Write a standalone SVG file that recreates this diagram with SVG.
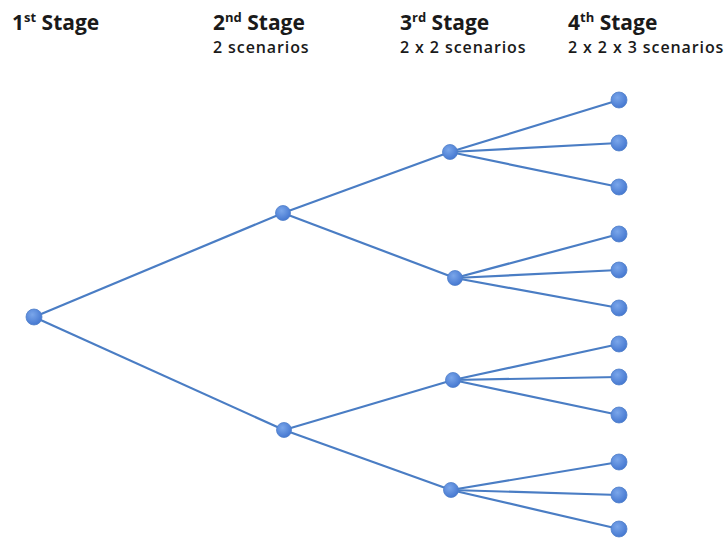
<svg xmlns="http://www.w3.org/2000/svg" width="728" height="539" viewBox="0 0 728 539">
<defs>
<radialGradient id="g" cx="40%" cy="35%" r="70%">
<stop offset="0" stop-color="#7aa6ea"/>
<stop offset="1" stop-color="#4275cf"/>
</radialGradient>
<style>
.t{font-family:"Open Sans","Liberation Sans",sans-serif;font-weight:bold;fill:#1a1a1a;font-size:21px}
.s{font-family:"Open Sans","Liberation Sans",sans-serif;font-weight:600;fill:#1a1a1a;font-size:16px;letter-spacing:0.9px}
.sup{font-size:13px}
.e{stroke:#4a7dc4;stroke-width:2.2;fill:none}
.n{fill:url(#g);stroke:#4f7fc9;stroke-width:0.8}
</style>
</defs>
<rect width="728" height="539" fill="#fff"/>
<g id="labels">
<text class="t" x="12" y="30">1<tspan class="sup" dy="-8">st</tspan><tspan dy="8"> Stage</tspan></text>
<text class="t" x="213" y="30">2<tspan class="sup" dy="-8">nd</tspan><tspan dy="8"> Stage</tspan></text>
<text class="s" x="213" y="53">2 scenarios</text>
<text class="t" x="400" y="30">3<tspan class="sup" dy="-8">rd</tspan><tspan dy="8"> Stage</tspan></text>
<text class="s" x="400" y="53">2 x 2 scenarios</text>
<text class="t" x="568" y="30">4<tspan class="sup" dy="-8">th</tspan><tspan dy="8"> Stage</tspan></text>
<text class="s" x="568" y="53">2 x 2 x 3 scenarios</text>
</g>
<g id="connectors" class="e">
<line x1="34" y1="317" x2="283" y2="213"/>
<line x1="34" y1="317" x2="284" y2="430"/>
<line x1="283" y1="213" x2="450" y2="152"/>
<line x1="283" y1="213" x2="455" y2="278"/>
<line x1="284" y1="430" x2="453" y2="380"/>
<line x1="284" y1="430" x2="451" y2="490"/>
<line x1="450" y1="152" x2="619" y2="100"/>
<line x1="450" y1="152" x2="619" y2="143"/>
<line x1="450" y1="152" x2="619" y2="187"/>
<line x1="455" y1="278" x2="619" y2="234"/>
<line x1="455" y1="278" x2="619" y2="270"/>
<line x1="455" y1="278" x2="619" y2="308"/>
<line x1="453" y1="380" x2="619" y2="344"/>
<line x1="453" y1="380" x2="619" y2="377"/>
<line x1="453" y1="380" x2="619" y2="415"/>
<line x1="451" y1="490" x2="619" y2="462"/>
<line x1="451" y1="490" x2="619" y2="495"/>
<line x1="451" y1="490" x2="619" y2="529"/>
</g>
<g id="n1"><circle class="n" cx="34" cy="317" r="8"/></g>
<g id="n2a"><circle class="n" cx="283" cy="213" r="7.5"/></g>
<g id="n2b"><circle class="n" cx="284" cy="430" r="7.5"/></g>
<g id="n3a"><circle class="n" cx="450" cy="152" r="7.5"/></g>
<g id="n3b"><circle class="n" cx="455" cy="278" r="7.5"/></g>
<g id="n3c"><circle class="n" cx="453" cy="380" r="7.5"/></g>
<g id="n3d"><circle class="n" cx="451" cy="490" r="7.5"/></g>
<g id="l1"><circle class="n" cx="619" cy="100" r="8"/></g>
<g id="l2"><circle class="n" cx="619" cy="143" r="8"/></g>
<g id="l3"><circle class="n" cx="619" cy="187" r="8"/></g>
<g id="l4"><circle class="n" cx="619" cy="234" r="8"/></g>
<g id="l5"><circle class="n" cx="619" cy="270" r="8"/></g>
<g id="l6"><circle class="n" cx="619" cy="308" r="8"/></g>
<g id="l7"><circle class="n" cx="619" cy="344" r="8"/></g>
<g id="l8"><circle class="n" cx="619" cy="377" r="8"/></g>
<g id="l9"><circle class="n" cx="619" cy="415" r="8"/></g>
<g id="l10"><circle class="n" cx="619" cy="462" r="8"/></g>
<g id="l11"><circle class="n" cx="619" cy="495" r="8"/></g>
<g id="l12"><circle class="n" cx="619" cy="529" r="8"/></g>
</svg>
